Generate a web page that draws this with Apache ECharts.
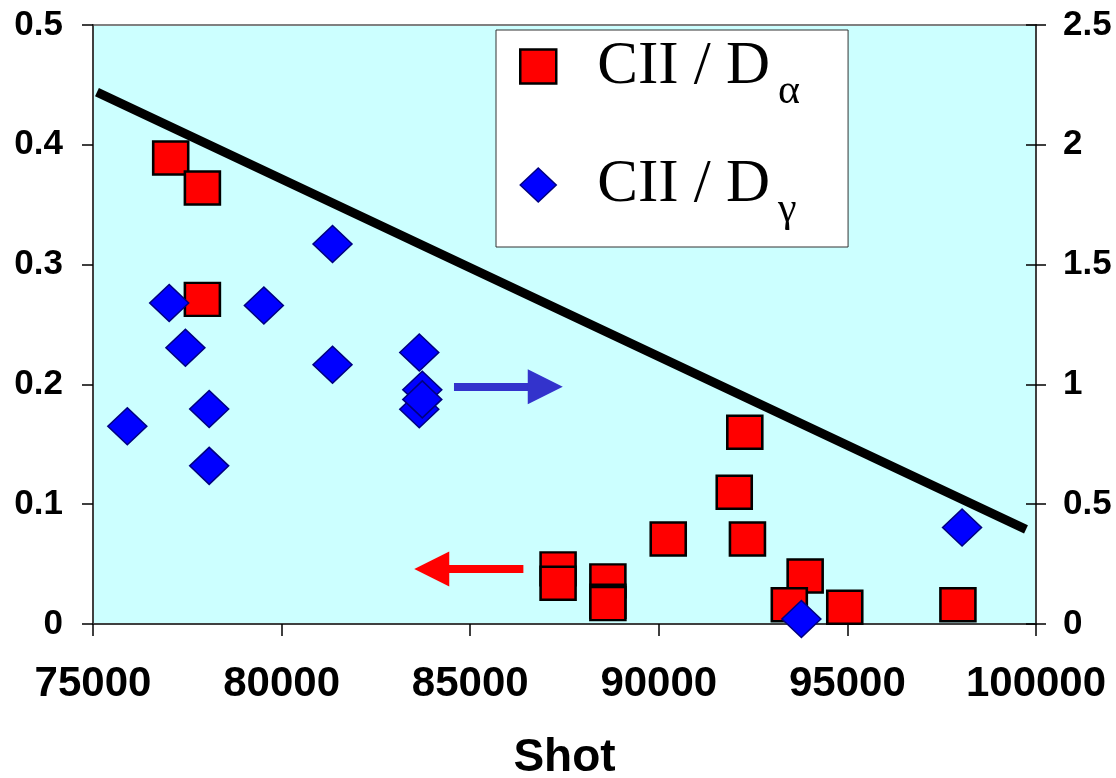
<!DOCTYPE html>
<html>
<head>
<meta charset="utf-8">
<script src="https://cdn.jsdelivr.net/npm/echarts@6/dist/echarts.min.js"></script>
<style>
html,body{margin:0;padding:0;background:#fff;}
#chart{width:1116px;height:778px;}
</style>
</head>
<body>
<div id="chart"></div>
<script>
// ---- data ----
const alphaName = 'CII / Dα';
const gammaName = 'CII / Dγ';
// CII / D-alpha (left axis)
const alphaShot  = [77060, 77900, 77900, 87330, 87330, 88650, 88650, 88650, 90250, 92280, 92000, 92350, 93880, 93460, 94930, 97930];
const alphaRatio = [0.389, 0.364, 0.271, 0.046, 0.034, 0.036, 0.019, 0.017, 0.071, 0.160, 0.110, 0.071, 0.040, 0.016, 0.014, 0.016];
// CII / D-gamma (right axis)
const gammaShot  = [81350, 77020, 79530, 77450, 81350, 83650, 83730, 83650, 83730, 75910, 78080, 78080, 98040, 93780];
const gammaRatio = [1.586, 1.340, 1.329, 1.153, 1.082, 1.133, 0.978, 0.896, 0.9375, 0.825, 0.897, 0.660, 0.403, 0.021];
// trend line (left axis)
const trendShot  = [75105, 99735];
const trendRatio = [0.444, 0.079];
// arrows: [startShot, endShot, level]
const blueArrow = [84570, 86990, 0.99];   // right axis
const redArrow  = [86410, 83980, 0.046];  // left axis
// axes
const xMin = 75000, xMax = 100000, xStep = 5000;
const yLeftMax = 0.5, yLeftStep = 0.1;
const yRightMax = 2.5, yRightStep = 0.5;

const zip = (a, b) => a.map((v, i) => [v, b[i]]);

const chart = echarts.init(document.getElementById('chart'), null, {renderer: 'canvas'});
const sansBold = {fontFamily: 'Liberation Sans, Arial, sans-serif', fontWeight: 'bold', color: '#000'};
const serif = 'Liberation Serif, Times New Roman, serif';

const option = {
  animation: false,
  backgroundColor: '#fff',
  grid: {
    left: 93, right: 80, top: 25, bottom: 154,
    show: true, backgroundColor: '#CCFFFF', borderColor: '#808080', borderWidth: 2,
    outerBoundsMode: 'none'
  },
  legend: {
    orient: 'vertical',
    left: 496, top: 30,
    padding: [6, 48, 16, 23],
    itemGap: 42,
    itemWidth: 36, itemHeight: 34,
    backgroundColor: '#fff',
    borderColor: '#333', borderWidth: 1,
    selectedMode: false,
    data: [
      {name: alphaName, icon: 'rect', itemStyle: {color: '#FF0000', borderColor: '#000', borderWidth: 2.5}},
      {name: gammaName, icon: 'diamond', itemStyle: {color: '#0000FF', borderColor: '#000080', borderWidth: 1.5}}
    ],
    formatter: n => '{a|' + n.slice(0, -1) + '}{s|' + n.slice(-1) + '}',
    textStyle: {
      color: '#000',
      fontFamily: serif,
      rich: {
        a: {fontFamily: serif, fontSize: 61, lineHeight: 70, color: '#000', padding: [0, 0, 0, 36]},
        s: {fontFamily: serif, fontSize: 42, color: '#000', verticalAlign: 'bottom', padding: [0, 0, -11, 8]}
      }
    }
  },
  xAxis: {
    type: 'value', min: xMin, max: xMax, interval: xStep,
    name: 'Shot', nameLocation: 'middle', nameGap: 111,
    nameTextStyle: Object.assign({fontSize: 46}, sansBold),
    axisLine: {show: true, onZero: false, lineStyle: {color: '#404040', width: 2}},
    axisTick: {show: true, length: 12, lineStyle: {color: '#000', width: 1.5}},
    axisLabel: Object.assign({fontSize: 42, margin: 39, formatter: v => String(v)}, sansBold),
    splitLine: {show: false}
  },
  yAxis: [
    {
      type: 'value', position: 'left', min: 0, max: yLeftMax, interval: yLeftStep,
      axisLine: {show: true, onZero: false, lineStyle: {color: '#404040', width: 2}},
      axisTick: {show: true, length: 11, lineStyle: {color: '#000', width: 1.5}},
      axisLabel: Object.assign({fontSize: 35, margin: 30}, sansBold),
      splitLine: {show: false}
    },
    {
      type: 'value', position: 'right', min: 0, max: yRightMax, interval: yRightStep,
      axisLine: {show: true, onZero: false, lineStyle: {color: '#404040', width: 2}},
      axisTick: {show: true, length: 10, lineStyle: {color: '#000', width: 1.5}},
      axisLabel: Object.assign({fontSize: 35, margin: 27}, sansBold),
      splitLine: {show: false}
    },
    {
      type: 'value', position: 'right', min: 0, max: yRightMax, interval: yRightStep,
      axisLine: {show: false},
      axisTick: {show: true, inside: true, length: 10, lineStyle: {color: '#000', width: 1.5}},
      axisLabel: {show: false},
      splitLine: {show: false}
    }
  ],
  series: [
    {
      type: 'line', name: 'trend', yAxisIndex: 0, z: 1,
      data: zip(trendShot, trendRatio),
      symbol: 'none', silent: true,
      lineStyle: {color: '#000', width: 9, cap: 'butt'}
    },
    {
      type: 'scatter', name: alphaName, yAxisIndex: 0, z: 2,
      data: zip(alphaShot, alphaRatio),
      symbol: 'rect', symbolSize: [35, 33],
      itemStyle: {color: '#FF0000', borderColor: '#000', borderWidth: 2.5, opacity: 1},
      markLine: {
        silent: true, animation: false,
        symbol: ['none', 'triangle'], symbolSize: 35,
        label: {show: false},
        lineStyle: {color: '#FF0000', width: 8, type: 'solid'},
        emphasis: {disabled: true},
        data: [[{coord: [redArrow[0], redArrow[2]]}, {coord: [redArrow[1], redArrow[2]]}]]
      }
    },
    {
      type: 'scatter', name: gammaName, yAxisIndex: 1, z: 3,
      data: zip(gammaShot, gammaRatio),
      symbol: 'diamond', symbolSize: [39, 37],
      itemStyle: {color: '#0000FF', borderColor: '#000080', borderWidth: 1.5, opacity: 1},
      markLine: {
        silent: true, animation: false,
        symbol: ['none', 'triangle'], symbolSize: 35,
        label: {show: false},
        lineStyle: {color: '#3333CC', width: 8, type: 'solid'},
        emphasis: {disabled: true},
        data: [[{coord: [blueArrow[0], blueArrow[2]]}, {coord: [blueArrow[1], blueArrow[2]]}]]
      }
    }
  ]
};
chart.setOption(option);
</script>
</body>
</html>
